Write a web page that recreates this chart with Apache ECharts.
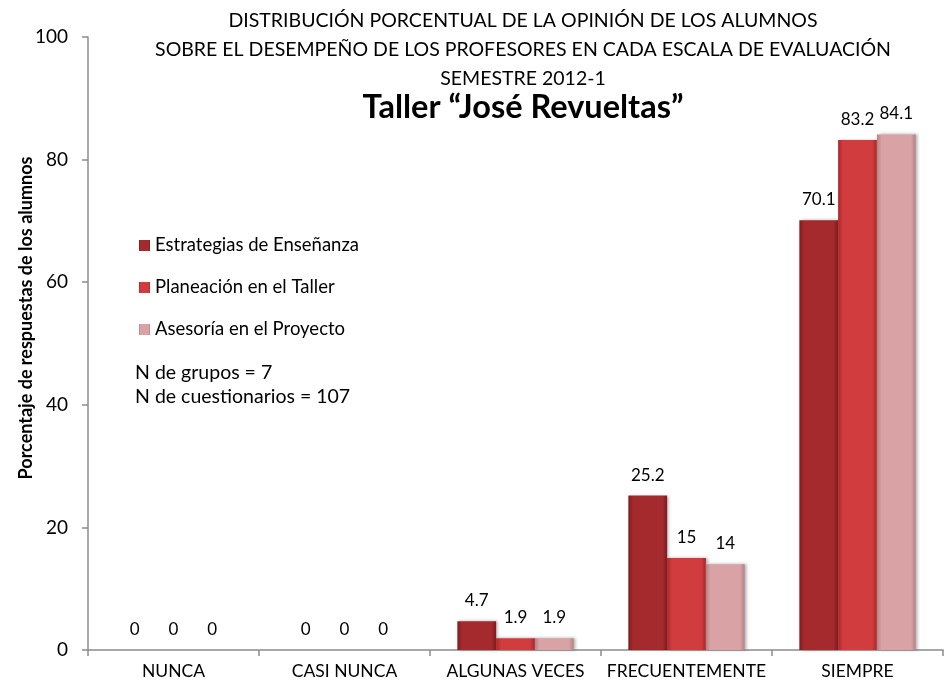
<!DOCTYPE html>
<html>
<head>
<meta charset="utf-8">
<style>
    html, body { margin: 0; padding: 0; background: #fff; }
    #container { width: 952px; height: 684px; }
</style>
</head>
<body>
<div id="container"></div>
<script src="https://cdn.jsdelivr.net/npm/echarts@6/dist/echarts.min.js"></script>
<script type="text/javascript">
    // datos
    var categorias = ['NUNCA', 'CASI NUNCA', 'ALGUNAS VECES', 'FRECUENTEMENTE', 'SIEMPRE'];
    var estrategias = [0, 0, 4.7, 25.2, 70.1];
    var planeacion = [0, 0, 1.9, 15, 83.2];
    var asesoria = [0, 0, 1.9, 14, 84.1];
    var yTicks = [0, 20, 40, 60, 80, 100];

    var fuente = 'Lato, "Open Sans", sans-serif';

    // relleno con efecto de bisel (bordes oscuros, centro claro)
    function bisel(borde, centro) {
        return {
            type: 'linear', x: 0, y: 0, x2: 1, y2: 0,
            colorStops: [
                {offset: 0, color: borde},
                {offset: 0.12, color: centro},
                {offset: 0.88, color: centro},
                {offset: 1, color: borde}
            ]
        };
    }

    var etiqueta = {
        show: true,
        position: 'top',
        distance: 12,
        color: '#000',
        fontSize: 17,
        fontFamily: fuente
    };

    var sombra = {
        shadowBlur: 3,
        shadowColor: 'rgba(0,0,0,0.3)',
        shadowOffsetX: 2,
        shadowOffsetY: 0
    };

    var myChart = echarts.init(document.getElementById('container'));
    var option = {
        animation: false,
        backgroundColor: '#fff',
        title: [
            {
                text: 'DISTRIBUCIÓN PORCENTUAL DE LA OPINIÓN DE LOS ALUMNOS\nSOBRE EL DESEMPEÑO DE LOS PROFESORES EN CADA ESCALA DE EVALUACIÓN\nSEMESTRE 2012-1',
                left: 518,
                top: 1,
                textAlign: 'center',
                textStyle: {
                    fontSize: 19.5,
                    fontWeight: 'normal',
                    fontFamily: fuente,
                    color: '#000',
                    lineHeight: 29
                }
            },
            {
                text: 'Taller “José Revueltas”',
                left: 518,
                top: 86,
                textAlign: 'center',
                textStyle: {
                    fontSize: 32.5,
                    fontWeight: 'bold',
                    fontFamily: fuente,
                    color: '#000'
                }
            }
        ],
        legend: {
            orient: 'vertical',
            left: 134,
            top: 231,
            itemWidth: 11,
            itemHeight: 11,
            itemGap: 23,
            icon: 'rect',
            textStyle: {fontSize: 18.5, fontFamily: fuente, color: '#000'},
            data: ['Estrategias de Enseñanza', 'Planeación en el Taller', 'Asesoría en el Proyecto']
        },
        graphic: [
            {
                type: 'text',
                left: 135,
                top: 361,
                style: {
                    text: 'N de grupos = 7\nN de cuestionarios = 107',
                    fontSize: 19.5,
                    lineHeight: 24,
                    fontFamily: fuente,
                    fill: '#000'
                }
            },
            {
                type: 'text',
                x: 26,
                y: 318,
                rotation: Math.PI / 2,
                style: {
                    text: 'Porcentaje de respuestas de los alumnos',
                    fontSize: 18,
                    fontWeight: 'bold',
                    fontFamily: fuente,
                    fill: '#000',
                    align: 'center',
                    verticalAlign: 'middle'
                }
            }
        ],
        grid: {left: 88, right: 9, top: 37, bottom: 34},
        xAxis: {
            type: 'category',
            data: categorias,
            axisLine: {lineStyle: {color: '#8c8c8c', width: 1.5}},
            axisTick: {show: true, length: 6, lineStyle: {color: '#8c8c8c', width: 1.5}},
            axisLabel: {interval: 0, fontSize: 17.5, fontFamily: fuente, color: '#000', margin: 12}
        },
        yAxis: {
            type: 'value',
            min: yTicks[0],
            max: yTicks[yTicks.length - 1],
            interval: 20,
            axisLine: {show: true, lineStyle: {color: '#8c8c8c', width: 1.5}},
            axisTick: {show: true, length: 6, lineStyle: {color: '#8c8c8c', width: 1.5}},
            splitLine: {show: false},
            axisLabel: {fontSize: 19, fontFamily: fuente, color: '#000', margin: 20}
        },
        series: [
            {
                name: 'Estrategias de Enseñanza',
                type: 'bar',
                barGap: 0,
                barCategoryGap: '32%',
                data: estrategias,
                label: etiqueta,
                itemStyle: Object.assign({color: bisel('#7e1a1d', '#a52a2e')}, sombra)
            },
            {
                name: 'Planeación en el Taller',
                type: 'bar',
                data: planeacion,
                label: etiqueta,
                itemStyle: Object.assign({color: bisel('#a82629', '#d13c3e')}, sombra)
            },
            {
                name: 'Asesoría en el Proyecto',
                type: 'bar',
                data: asesoria,
                label: etiqueta,
                itemStyle: Object.assign({color: bisel('#b48184', '#d9a3a6')}, sombra)
            }
        ]
    };
    myChart.setOption(option);
</script>
</body>
</html>
